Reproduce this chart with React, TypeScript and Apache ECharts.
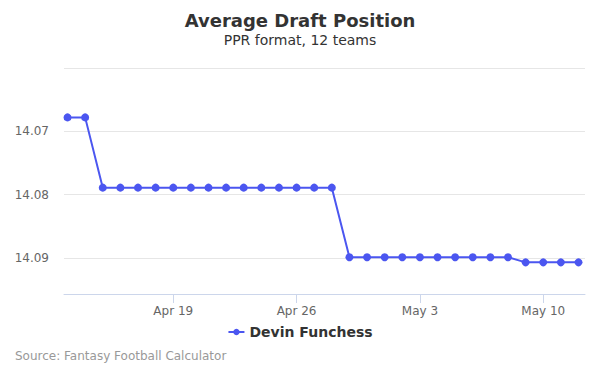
import React, { useEffect, useRef } from "react";
import * as echarts from "echarts";

const dates: string[] = [
  "Apr 13", "Apr 14", "Apr 15", "Apr 16", "Apr 17", "Apr 18", "Apr 19", "Apr 20",
  "Apr 21", "Apr 22", "Apr 23", "Apr 24", "Apr 25", "Apr 26", "Apr 27", "Apr 28",
  "Apr 29", "Apr 30", "May 1", "May 2", "May 3", "May 4", "May 5", "May 6",
  "May 7", "May 8", "May 9", "May 10", "May 11", "May 12",
];
const adpValues: number[] = [
  14.0678, 14.0678,
  14.0789, 14.0789, 14.0789, 14.0789, 14.0789, 14.0789, 14.0789,
  14.0789, 14.0789, 14.0789, 14.0789, 14.0789, 14.0789, 14.0789,
  14.0899, 14.0899, 14.0899, 14.0899, 14.0899, 14.0899, 14.0899, 14.0899,
  14.0899, 14.0899,
  14.0907, 14.0907, 14.0907, 14.0907,
];
const tickLabels: string[] = ["Apr 19", "Apr 26", "May 3", "May 10"];
const seriesName = "Devin Funchess";

export default function App() {
  const ref = useRef<HTMLDivElement>(null);
  useEffect(() => {
    if (!ref.current) return;
    const chart = echarts.init(ref.current, undefined, { renderer: "svg" });
    const font = "DejaVu Sans";
    const tickIdx = tickLabels.map((l) => dates.indexOf(l));
    chart.setOption({
      animation: false,
      textStyle: { fontFamily: font },
      title: {
        text: "Average Draft Position",
        subtext: "PPR format, 12 teams",
        left: "center",
        top: 6,
        itemGap: 4,
        textStyle: { fontFamily: font, fontSize: 18, fontWeight: "bold", color: "#333333" },
        subtextStyle: { fontFamily: font, fontSize: 14, color: "#333333" },
      },
      legend: {
        bottom: 31,
        left: "center",
        itemWidth: 16,
        itemHeight: 8,
        textStyle: { fontFamily: font, fontSize: 14, fontWeight: "bold", color: "#333333" },
        data: [seriesName],
      },
      graphic: [
        {
          type: "text",
          left: 15,
          top: 350,
          style: { text: "Source: Fantasy Football Calculator", fontFamily: font, fontSize: 12, fill: "#999999" },
        },
      ],
      grid: { left: 64, right: 15, top: 68, bottom: 81, containLabel: false },
      xAxis: {
        type: "value",
        min: -0.2,
        max: 29.37,
        splitLine: { show: false },
        axisLine: { onZero: false, lineStyle: { color: "#ccd6eb" } },
        axisTick: { show: true, customValues: tickIdx, length: 9, lineStyle: { color: "#ccd6eb" } },
        axisLabel: {
          customValues: tickIdx,
          formatter: (v: number) => dates[Math.round(v)] ?? "",
          color: "#666666",
          fontFamily: font,
          fontSize: 12,
          margin: 11,
        },
      },
      yAxis: {
        type: "value",
        inverse: true,
        min: 14.06,
        max: 14.0957,
        interval: 0.01,
        axisLine: { show: false },
        axisTick: { show: false },
        splitLine: { lineStyle: { color: "#e6e6e6" } },
        axisLabel: {
          showMinLabel: false,
          showMaxLabel: false,
          formatter: (v: number) => v.toFixed(2),
          color: "#666666",
          fontFamily: font,
          fontSize: 12,
          margin: 15,
        },
      },
      series: [
        {
          name: seriesName,
          type: "line",
          data: adpValues.map((v, i) => [i, v]),
          symbol: "circle",
          symbolSize: 8,
          lineStyle: { width: 2, color: "#4b56f0" },
          itemStyle: { color: "#4b56f0" },
        },
      ],
    });
    return () => chart.dispose();
  }, []);
  return <div ref={ref} style={{ width: 600, height: 375, position: "absolute", left: 0, top: 0 }} />;
}
